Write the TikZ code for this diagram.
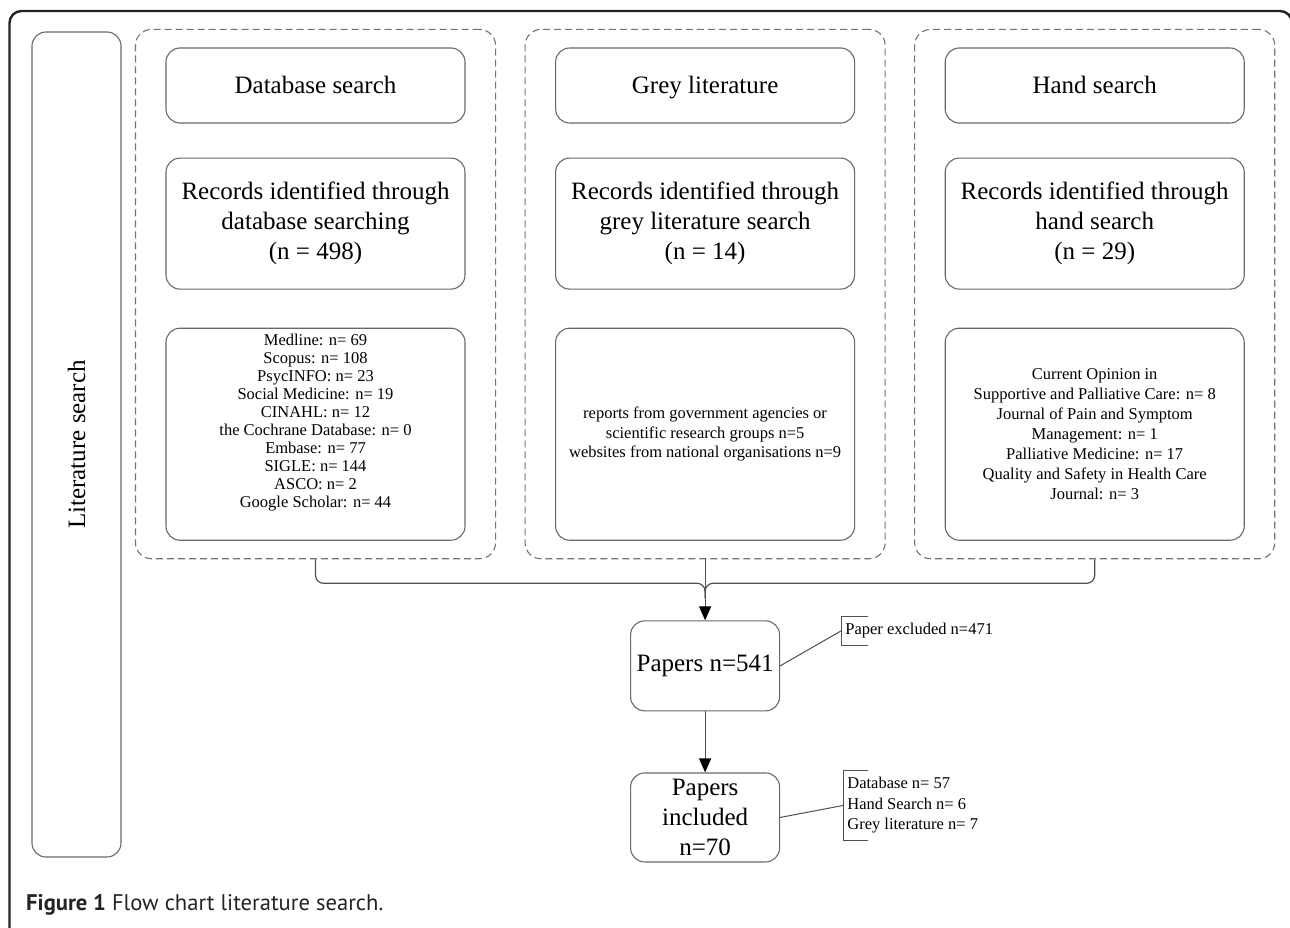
\documentclass[tikz,border=0pt]{standalone}
\usepackage{fontspec}
\setmainfont{Liberation Serif}
\newfontfamily\capfont{PT Sans}
\usepackage{tikz}
\usetikzlibrary{positioning,fit,arrows.meta,calc}
\definecolor{boxgray}{RGB}{105,105,105}
\definecolor{dashgray}{RGB}{115,115,115}
\definecolor{linegray}{RGB}{80,80,80}
\definecolor{framegray}{RGB}{35,35,35}
\tikzstyle{stage}=[draw=boxgray,line width=1.1pt,rounded corners=14pt,minimum width=299pt,align=center,inner sep=0pt]
\tikzstyle{head}=[stage,minimum height=75pt,text height=23pt,text depth=6pt,font=\fontsize{25}{30}\selectfont]
\tikzstyle{rec}=[stage,minimum height=131pt,font=\fontsize{25}{30}\selectfont]
\tikzstyle{detail}=[stage,minimum height=212pt,font=\fontsize{16.5}{20}\selectfont]
\tikzstyle{group}=[draw=dashgray,line width=1.1pt,dash pattern=on 7pt off 4pt,rounded corners=16pt,inner xsep=30pt,inner ysep=18pt]
\tikzstyle{result}=[draw=boxgray,line width=1.1pt,rounded corners=14pt,minimum width=149pt,minimum height=90pt,align=center,inner sep=0pt,font=\fontsize{25}{30}\selectfont]
\tikzstyle{note}=[inner xsep=4pt,inner ysep=0pt,align=left,font=\fontsize{16.5}{20.5}\selectfont]
\tikzstyle{link}=[draw=linegray,line width=1.2pt]
\tikzstyle{flow}=[link,-{Triangle[length=14pt,width=12pt,color=black]}]

\begin{document}
\begin{tikzpicture}[x=1pt,y=-1pt]
\useasboundingbox (0,0) rectangle (1290,928);
\draw[framegray,line width=2.4pt,rounded corners=12pt] (9.5,940) -- (9.5,11) -- (1292,11) -- (1292,940);

\node[draw=boxgray,line width=1.1pt,rounded corners=14pt,rotate=90,minimum width=825pt,minimum height=89pt,font=\fontsize{25}{30}\selectfont] (litsearch) at (76.5,444.5) {Literature search};

\node[head] (dbhead) at (315.5,85.5) {Database search};
\node[head,right=89.5pt of dbhead] (greyhead) {Grey literature};
\node[head,right=89.5pt of greyhead] (handhead) {Hand search};

\node[rec,below=34pt of dbhead] (dbrec) {Records identified through\\database searching\\(n = 498)};
\node[rec,below=34pt of greyhead] (greyrec) {Records identified through\\grey literature search\\(n = 14)};
\node[rec,below=34pt of handhead] (handrec) {Records identified through\\hand search\\(n = 29)};

\node[detail,below=38pt of dbrec,font=\fontsize{16.5}{18}\selectfont] (dbdetail) {Medline: n= 69\\Scopus: n= 108\\PsycINFO: n= 23\\Social Medicine: n= 19\\CINAHL: n= 12\\the Cochrane Database: n= 0\\Embase: n= 77\\SIGLE: n= 144\\ASCO: n= 2\\Google Scholar: n= 44\\[8pt]};
\node[detail,below=38pt of greyrec,font=\fontsize{16.5}{19.5}\selectfont] (greydetail) {reports from government agencies or\\scientific research groups n=5\\websites from national organisations n=9};
\node[detail,below=38pt of handrec] (handdetail) {Current Opinion in\\Supportive and Palliative Care: n= 8\\Journal of Pain and Symptom\\Management: n= 1\\Palliative Medicine: n= 17\\Quality and Safety in Health Care\\Journal: n= 3};

\node[group,fit=(dbhead)(dbdetail)] (dbgroup) {};
\node[group,fit=(greyhead)(greydetail)] (greygroup) {};
\node[group,fit=(handhead)(handdetail)] (handgroup) {};

\node[result,below=61pt of greygroup] (papers) {Papers n=541};
\node[result,below=61pt of papers,minimum height=89pt] (included) {Papers\\included\\n=70};
\coordinate (merge) at ([yshift=22pt]papers.north);

\draw[link] (dbgroup.south) [rounded corners=8pt] |- ([yshift=15pt]merge) [rounded corners=15pt] -- (merge);
\draw[link] (handgroup.south) [rounded corners=8pt] |- ([yshift=15pt]merge) [rounded corners=15pt] -- (merge);
\draw[flow] (greygroup.south) -- (papers.north);
\draw[flow] (papers) -- (included);

\node[note,minimum height=28pt,right=61pt of papers.east,yshift=35pt] (excl) {Paper excluded n=471};
\node[note,minimum height=69pt,right=63pt of included.east,yshift=12pt] (incl) {Database n= 57\\Hand Search n= 6\\Grey literature n= 7};
\draw[link,line width=1pt] ([xshift=27pt]excl.north west) -- (excl.north west) -- (excl.south west) -- ([xshift=27pt]excl.south west);
\draw[link,line width=1pt] ([xshift=25pt]incl.north west) -- (incl.north west) -- (incl.south west) -- ([xshift=25pt]incl.south west);
\draw[link,line width=1pt] (papers.east) -- (excl.west);
\draw[link,line width=1pt] (included.east) -- (incl.west);

\node[anchor=base west,inner sep=0pt,text=framegray,font=\capfont\fontsize{22.6}{27}\selectfont] (caption) at (26,910) {\textbf{Figure 1} Flow chart literature search.};
\end{tikzpicture}
\end{document}
